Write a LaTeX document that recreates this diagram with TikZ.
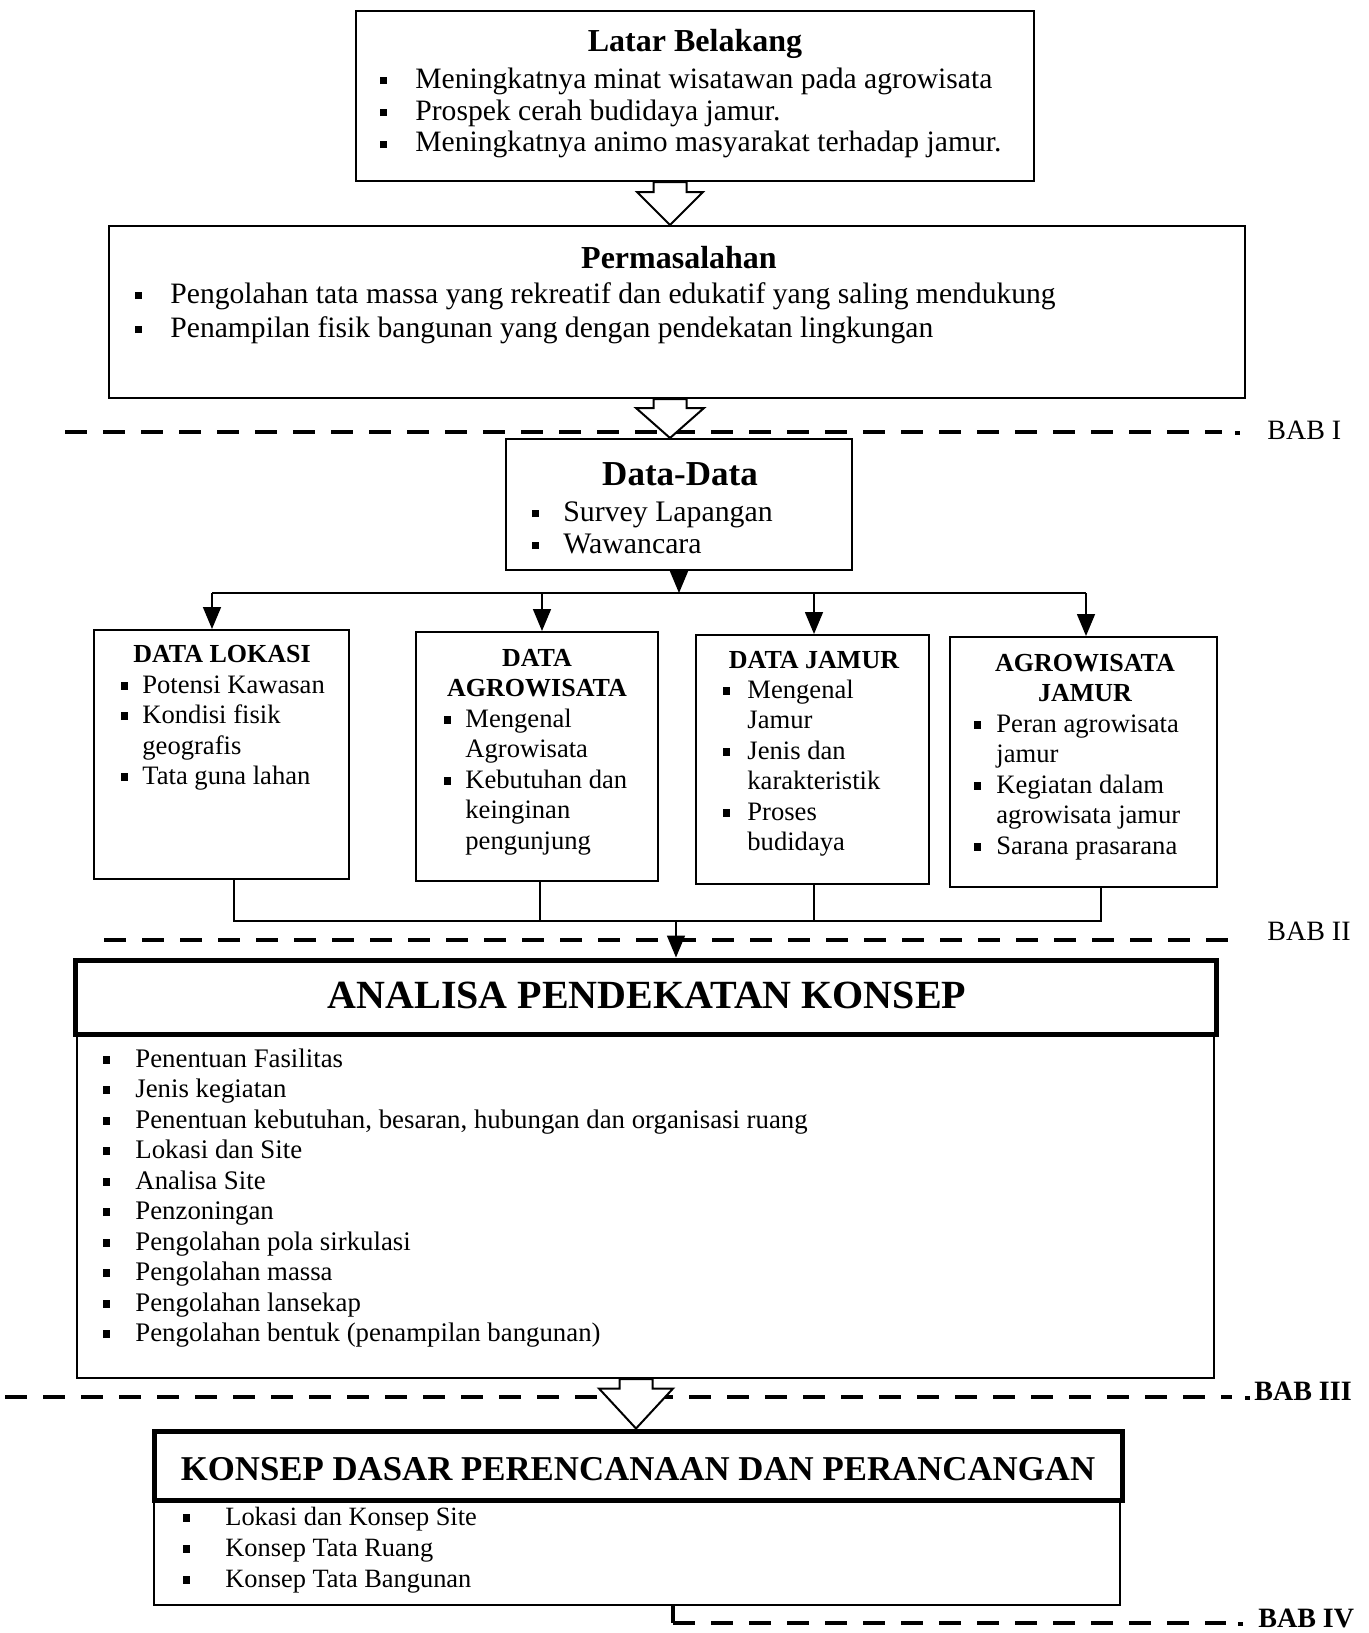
\documentclass[tikz,border=0pt]{standalone}
\usepackage{fontspec}
\setmainfont{Liberation Serif}
\usetikzlibrary{arrows.meta,fit,calc}

% small square bullet
\newcommand{\sq}{\raisebox{0.28ex}{\rule{3.4pt}{3.8pt}}}
% bullet list: #1 = width of the bullet column, #2 = rows "bullet & text"
\newcommand{\blist}[2]{\begin{tabular}[t]{@{}p{#1}@{}l@{}}#2\end{tabular}}
\newcommand{\fs}[2]{\fontsize{#1}{#2}\selectfont}
% hollow block arrow from #1 down to #2; #3 = head half width, #4 = head length
\newcommand{\hollowarrow}[4]{%
  \path[hollow] let \p1=(#1), \p2=(#2) in
    (\x1-8.25pt,\y1) -- (\x1-8.25pt,\y2+#4) -- (\x1-#3,\y2+#4) -- (\x2,\y2)
    -- (\x1+#3,\y2+#4) -- (\x1+8.25pt,\y2+#4) -- (\x1+8.25pt,\y1) -- cycle;}

\begin{document}
\begin{tikzpicture}[x=0.5pt,y=-0.5pt,
  box/.style={draw, line width=1pt, inner sep=0pt},
  headbox/.style={draw, line width=2.5pt, inner sep=0pt},
  txt/.style={inner sep=0pt, anchor=base west},
  ttl/.style={inner sep=0pt, anchor=base},
  link/.style={line width=0.8pt},
  arr/.style={link, -{Triangle[width=9pt,length=11pt]}},
  hollow/.style={draw, fill=white, line width=1pt, line join=miter},
  babline/.style={line width=2.4pt, dash pattern=on 11pt off 8pt},
  babdot/.style={line width=2.4pt},
  bab/.style={inner sep=0pt, anchor=base west},
]
\useasboundingbox (0,0) rectangle (1369,1633);

% ---------------- boxes ----------------
\node[box, fit={(356,11) (1034,181)}] (latar) {};
\node[box, fit={(109,226) (1245,398)}] (perm) {};
\node[box, fit={(506,439) (852,570)}] (data) {};
\node[box, fit={(94,630) (349,879)}] (lok) {};
\node[box, fit={(416,632) (658,881)}] (agro) {};
\node[box, fit={(696,635) (929,884)}] (jam) {};
\node[box, fit={(950,637) (1217,887)}] (agj) {};
\node[box, fit={(77,1034) (1214,1378)}] (anab) {};
\node[headbox, fit={(75,960) (1216,1034)}] (ana) {};
\node[box, fit={(154,1500) (1120,1605)}] (konb) {};
\node[headbox, fit={(154,1431) (1122,1500)}] (kon) {};

% ---------------- chapter separators ----------------
\draw[babline] (65,432) -- (1222,432);
\draw[babdot] (1235,433) -- (1240,433);
\node[bab, font=\fs{14}{16}] (bab1) at (1267,439) {BAB I};

\draw[babline] (104,940) -- (1244,940);
\node[bab, font=\fs{14}{16}] (bab2) at (1267,940) {BAB II};

\draw[babline] (5,1397) -- (1232,1397);
\draw[babdot] (1245,1398) -- (1250,1398);
\node[bab, font=\fs{14}{16}\bfseries] (bab3) at (1254,1400) {BAB III};

\coordinate (k4) at (673,1623);
\draw[babdot] (k4 |- konb.south) -- (k4);
\draw[babline] (k4) -- (1226,1623);
\draw[babdot] (1238,1624) -- (1243,1624);
\node[bab, font=\fs{14}{16}\bfseries] (bab4) at (1258,1627) {BAB IV};

% ---------------- block arrows ----------------
\coordinate (x1) at (670,0);
\coordinate (x3) at (636,0);
\hollowarrow{x1 |- latar.south}{x1 |- perm.north}{16.5pt}{16.5pt}
\hollowarrow{x1 |- perm.south}{x1 |- data.north}{17pt}{15pt}
\hollowarrow{x3 |- anab.south}{x3 |- kon.north}{18.5pt}{20pt}

% ---------------- texts ----------------
\node[ttl, font=\fs{16}{18}\bfseries] (latart) at (695,51) {Latar Belakang};
\node[txt, font=\fs{14.8}{16}] (latarl) at (380,88) {\blist{17.5pt}{%
  \sq & Meningkatnya minat wisatawan pada agrowisata\\
  \sq & Prospek cerah budidaya jamur.\\
  \sq & Meningkatnya animo masyarakat terhadap jamur.}};

\node[ttl, font=\fs{16}{18}\bfseries] (permt) at (679,268) {Permasalahan};
\node[txt, font=\fs{14.8}{17}] (perml) at (135,303) {\blist{17.5pt}{%
  \sq & Pengolahan tata massa yang rekreatif dan edukatif yang saling mendukung\\
  \sq & Penampilan fisik bangunan yang dengan pendekatan lingkungan}};

\node[ttl, font=\fs{17.5}{19}\bfseries] (datat) at (680,485) {Data-Data};
\node[txt, font=\fs{14.9}{16}] (datal) at (532,521) {\blist{15.5pt}{%
  \sq & Survey Lapangan\\
  \sq & Wawancara}};

\node[ttl, font=\fs{13}{15.25}\bfseries] (lokt) at (222,662) {DATA LOKASI};
\node[txt, font=\fs{13.3}{15.25}] (lokl) at (121,693) {\blist{10.5pt}{%
  \sq & Potensi Kawasan\\
  \sq & Kondisi fisik\\
      & geografis\\
  \sq & Tata guna lahan}};

\node[ttl, font=\fs{13}{15.25}\bfseries] (agrot) at (537,666)
  {\begin{tabular}[t]{@{}c@{}}DATA\\AGROWISATA\end{tabular}};
\node[txt, font=\fs{13.3}{15.25}] (agrol) at (444,727) {\blist{10.5pt}{%
  \sq & Mengenal\\
      & Agrowisata\\
  \sq & Kebutuhan dan\\
      & keinginan\\
      & pengunjung}};

\node[ttl, font=\fs{13}{15.25}\bfseries] (jamt) at (814,668) {DATA JAMUR};
\node[txt, font=\fs{13.3}{15.25}] (jaml) at (723,698) {\blist{12pt}{%
  \sq & Mengenal\\
      & Jamur\\
  \sq & Jenis dan\\
      & karakteristik\\
  \sq & Proses\\
      & budidaya}};

\node[ttl, font=\fs{13}{15.25}\bfseries] (agjt) at (1085,671)
  {\begin{tabular}[t]{@{}c@{}}AGROWISATA\\JAMUR\end{tabular}};
\node[txt, font=\fs{13.3}{15.25}] (agjl) at (974,732) {\blist{11pt}{%
  \sq & Peran agrowisata\\
      & jamur\\
  \sq & Kegiatan dalam\\
      & agrowisata jamur\\
  \sq & Sarana prasarana}};

\node[ttl, font=\fs{20}{22}\bfseries] (anat) at (647,1008) {ANALISA PENDEKATAN KONSEP};
\node[txt, font=\fs{13.4}{15.25}] (anal) at (103,1067) {\blist{16pt}{%
  \sq & Penentuan Fasilitas\\
  \sq & Jenis kegiatan\\
  \sq & Penentuan kebutuhan, besaran, hubungan dan organisasi ruang\\
  \sq & Lokasi dan Site\\
  \sq & Analisa Site\\
  \sq & Penzoningan\\
  \sq & Pengolahan pola sirkulasi\\
  \sq & Pengolahan massa\\
  \sq & Pengolahan lansekap\\
  \sq & Pengolahan bentuk (penampilan bangunan)}};

\node[ttl, font=\fs{17.4}{20}\bfseries] (kont) at (638,1480) {KONSEP DASAR PERENCANAAN DAN PERANCANGAN};
\node[txt, font=\fs{13.2}{15.5}] (konl) at (183,1525) {\blist{21pt}{%
  \sq & Lokasi dan Konsep Site\\
  \sq & Konsep Tata Ruang\\
  \sq & Konsep Tata Bangunan}};

% ---------------- connectors ----------------
\coordinate (bj) at (0,593);
\coordinate (d1) at (212,593);
\coordinate (d2) at (542,593);
\coordinate (d3) at (814,593);
\coordinate (d4) at (1086,593);
\draw[arr] (data.south) -- (data.south |- bj);
\draw[link] (d1) -- (d4);
\draw[arr] (d1) -- (d1 |- lok.north);
\draw[arr] (d2) -- (d2 |- agro.north);
\draw[arr] (d3) -- (d3 |- jam.north);
\draw[arr] (d4) -- (d4 |- agj.north);

\coordinate (c1) at (234,921);
\coordinate (c2) at (540,921);
\coordinate (c3) at (814,921);
\coordinate (c4) at (1101,921);
\coordinate (cm) at (676,921);
\draw[link] (c1 |- lok.south) -- (c1) -- (c4) -- (c4 |- agj.south);
\draw[link] (c2 |- agro.south) -- (c2);
\draw[link] (c3 |- jam.south) -- (c3);
\draw[arr] (cm) -- (cm |- ana.north);
\end{tikzpicture}
\end{document}
